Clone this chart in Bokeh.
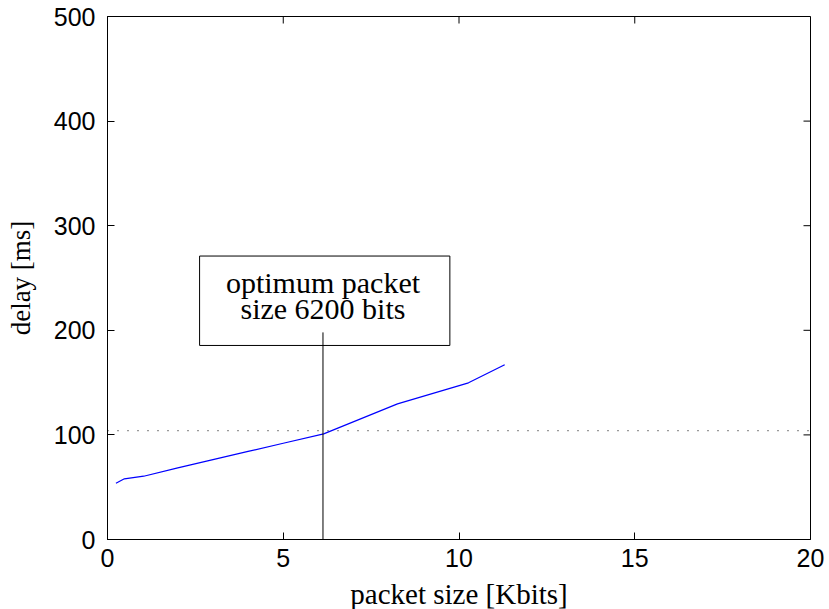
from bokeh.plotting import figure
from bokeh.models import FixedTicker, Range1d, Span, Label
from bokeh.embed import file_html
from bokeh.resources import INLINE

# data
packet_kbits = [0.24, 0.48, 1.03, 2.0, 3.0, 4.0, 5.0, 6.15, 8.25, 10.27, 11.3]
delay_ms = [53.8, 58.0, 60.5, 68.5, 76.3, 84.2, 92.0, 101.0, 129.7, 149.8, 167.0]
x_ticks = [0, 5, 10, 15, 20]
y_ticks = [0, 100, 200, 300, 400, 500]
delay_limit = 104
optimum_kbits = 6.13
optimum_marker_top = 198
note_lines = ["optimum packet", "size 6200 bits"]
note_box = dict(left=2.62, right=9.74, bottom=185.5, top=271)
note_baselines = [246, 221]

FW, FH, TICK = 703, 523, 7

p = figure(frame_width=FW, frame_height=FH,
           min_border_left=107, min_border_right=19, min_border_top=16, min_border_bottom=70,
           x_range=Range1d(0, 20), y_range=Range1d(0, 500),
           output_backend="svg", toolbar_location=None)
p.extra_x_ranges = {"px": Range1d(0, FW)}
p.extra_y_ranges = {"px": Range1d(0, FH)}
p.background_fill_color = "white"
p.border_fill_color = "white"
p.outline_line_color = "black"
p.outline_line_width = 1
p.outline_line_alpha = 1
p.grid.visible = False

sans = "Liberation Sans"
serif = "Liberation Serif"

for ax, ticks in ((p.xaxis[0], x_ticks), (p.yaxis[0], y_ticks)):
    ax.ticker = FixedTicker(ticks=ticks)
    ax.major_tick_in = TICK
    ax.major_tick_out = 0
    ax.minor_tick_line_color = None
    ax.axis_line_color = "black"
    ax.major_tick_line_color = "black"
    ax.major_label_text_font = sans
    ax.major_label_text_font_size = "25px"
    ax.major_label_text_color = "black"
    ax.axis_label_text_font = serif
    ax.axis_label_text_font_style = "normal"
    ax.axis_label_text_color = "black"

p.xaxis[0].axis_label = "packet size [Kbits]"
p.yaxis[0].axis_label = "delay [ms]"
p.xaxis[0].axis_label_text_font_size = "29px"
p.yaxis[0].axis_label_text_font_size = "27px"
p.xaxis[0].major_label_standoff = 9
p.xaxis[0].axis_label_standoff = 8
p.yaxis[0].major_label_standoff = 12
p.yaxis[0].axis_label_standoff = 15

# mirrored ticks on top and right (pixel ranges for tick length)
p.segment(x0=x_ticks, y0=[FH - TICK] * len(x_ticks), x1=x_ticks, y1=[FH] * len(x_ticks),
          y_range_name="px", line_color="black", line_width=1)
p.segment(x0=[FW - TICK] * len(y_ticks), y0=y_ticks, x1=[FW] * len(y_ticks), y1=y_ticks,
          x_range_name="px", line_color="black", line_width=1)

# dotted delay limit
p.add_layout(Span(location=delay_limit, dimension="width", line_color="black",
                  line_width=1, line_dash="1 9"))

# data line
p.line(packet_kbits, delay_ms, line_color="#0000ff", line_width=1.2)

# annotation box
p.quad(left=[note_box["left"]], right=[note_box["right"]],
       bottom=[note_box["bottom"]], top=[note_box["top"]],
       fill_color="white", line_color="black", line_width=1)
p.segment(x0=[optimum_kbits], y0=[0], x1=[optimum_kbits], y1=[optimum_marker_top],
          line_color="black", line_width=1)
for txt, yb in zip(note_lines, note_baselines):
    p.add_layout(Label(x=optimum_kbits, y=yb, text=txt, text_align="center",
                       text_baseline="alphabetic", text_font=serif,
                       text_font_size="30px", text_color="black"))

open("out.html", "w").write(file_html(p, INLINE))
